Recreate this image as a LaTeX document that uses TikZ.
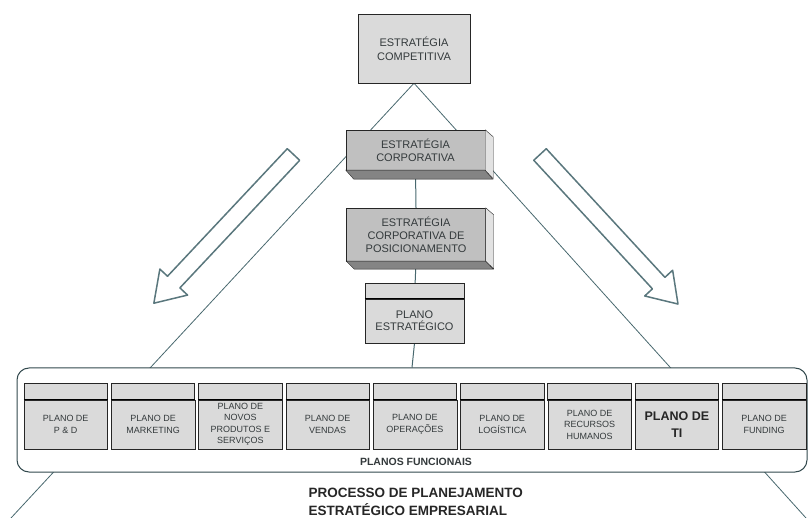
\documentclass[tikz,border=0pt]{standalone}
\usepackage{fontspec}
\setmainfont{Liberation Sans}
\usetikzlibrary{backgrounds}
\definecolor{linha}{RGB}{72,104,110}
\definecolor{caixa}{RGB}{218,218,218}
\definecolor{frente}{RGB}{192,192,192}
\definecolor{fundo}{RGB}{132,132,132}
\definecolor{lado}{RGB}{226,226,226}
\definecolor{texto}{RGB}{52,58,60}

\begin{document}
\begin{tikzpicture}[x=1pt, y=-1pt,
  box/.style = {draw=black!85, fill=caixa, inner sep=0pt, align=center, text=texto},
  box3d/.style = {box, fill=frente, minimum width=139pt, font=\fontsize{11}{13}\selectfont},
  plano/.style = {box, minimum width=83.5pt, minimum height=49pt, font=\fontsize{9}{11.5}\selectfont},
  seta/.style = {draw=linha!90, line width=1.5pt, line join=round, fill=white}]
\useasboundingbox (0,0) rectangle (811,518);

% topo e estrategias
\node[box, minimum width=112pt, minimum height=69pt, font=\fontsize{11}{14}\selectfont] (comp) at (414,48.5) {ESTRATÉGIA\\COMPETITIVA};
\node[box3d, minimum height=40pt] (corp) at (415.5,150) {ESTRATÉGIA\\CORPORATIVA};
\fill[fundo, draw=black!85] (corp.south west) -- ++(8,9) -- ++(139,0) -- (corp.south east) -- cycle;
\fill[lado, draw=black!85] (corp.north east) -- ++(8,7) -- ++(0,42) -- (corp.south east) -- cycle;
\node[box3d, minimum height=53pt] (pos) at (416,234.5) {ESTRATÉGIA\\CORPORATIVA DE\\POSICIONAMENTO};
\fill[fundo, draw=black!85] (pos.south west) -- ++(8,8) -- ++(139,0) -- (pos.south east) -- cycle;
\fill[lado, draw=black!85] (pos.north east) -- ++(8,7) -- ++(0,54) -- (pos.south east) -- cycle;

% plano estrategico
\node[box, minimum width=99pt, minimum height=44pt, font=\fontsize{11}{12}\selectfont] (plano) at (414.5,321) {PLANO\\ESTRATÉGICO};
\draw[draw=black!85, fill=caixa] (plano.north west) rectangle ++(99,-16);
\draw[line width=1.2pt] (plano.north west) -- (plano.north east);

% setas
\draw[seta, shift={(293.5,154.5)}, rotate=226.8] (0,-8.5) -- (175,-8.5) -- (175,-19) -- (204,0) -- (175,19) -- (175,8.5) -- (0,8.5) -- cycle;
\draw[seta, shift={(540,154.5)}, rotate=-47.3] (0,-8.5) -- (175,-8.5) -- (175,-19) -- (203.5,0) -- (175,19) -- (175,8.5) -- (0,8.5) -- cycle;

% planos funcionais
\node[draw=linha!70!black, line width=1pt, rounded corners=12pt, fill=white, minimum width=790pt, minimum height=104pt] (func) at (412,420) {};
\foreach \i/\txt in {1/{PLANO DE\\P \& D}, 2/{PLANO DE\\MARKETING}, 3/{PLANO DE\\NOVOS\\PRODUTOS E\\SERVIÇOS}, 4/{PLANO DE\\VENDAS}, 5/{PLANO DE\\OPERAÇÕES}, 6/{PLANO DE\\LOGÍSTICA}, 7/{PLANO DE\\RECURSOS\\HUMANOS}, 9/{PLANO DE\\FUNDING}}
  \node[plano] (p\i) at ({65.75+87.3*(\i-1)},424.5) {\txt};
\node[plano, font=\bfseries\fontsize{12.5}{17}\selectfont, text=black!85] (p8) at ({65.75+87.3*7},424.5) {PLANO DE\\TI};
\foreach \i in {1,...,9} {
  \draw[draw=black!85, fill=caixa] (p\i.north west) rectangle ++(83.5,-17);
  \draw[line width=1.2pt] (p\i.north west) -- (p\i.north east);
}
\node[font=\bfseries\fontsize{10.5}{12}\selectfont, text=texto] (pf) at (416,462) {PLANOS FUNCIONAIS};
\node[anchor=west, align=left, font=\bfseries\fontsize{13.5}{18}\selectfont, text=black!85] (titulo) at (305,502) {PROCESSO DE PLANEJAMENTO\\ESTRATÉGICO EMPRESARIAL};

% linhas do triangulo
\coordinate (baseL) at (11,518);
\coordinate (baseR) at (806,518);
\begin{scope}[on background layer]
\draw[linha, line width=0.8pt] (baseL) -- (comp.south) -- (baseR);
\draw[linha, line width=1pt] (corp.south) -- (pos.north) (pos.south) -- (plano.north) (plano.south) -- (func.north);
\end{scope}
\end{tikzpicture}
\end{document}
